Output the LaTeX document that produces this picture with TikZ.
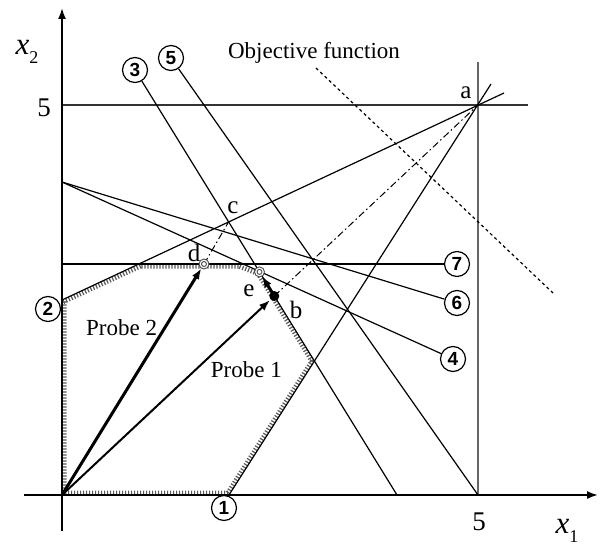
\documentclass[tikz,border=0pt]{standalone}
\usepackage{fontspec}
\setmainfont{Liberation Serif}
\newfontfamily\digitfont{Liberation Sans}
\usetikzlibrary{arrows.meta}
\begin{document}
\begin{tikzpicture}[x=1pt,y=-1pt,
  cline/.style={line width=1.2pt},
  axisline/.style={line width=1.8pt,-{Latex[length=11pt,width=8pt]}},
  num/.style={circle,draw,line width=1.2pt,inner sep=0pt,minimum size=25pt,fill=white,font=\digitfont\bfseries\fontsize{19}{19}\selectfont},
  lbl/.style={font=\fontsize{25}{25}\selectfont,inner sep=0pt},
  txt/.style={font=\fontsize{23}{23}\selectfont,inner sep=0pt},
  dashdot/.style={line width=1pt,dash pattern=on 7pt off 3pt on 1.5pt off 3pt},
  probearrow/.style={-{Latex[length=11pt,width=8pt]}},
  objline/.style={line width=1.2pt,dash pattern=on 3pt off 3pt},
  hatchband/.style={line width=9pt,black!65,dash pattern=on 1.2pt off 1.8pt}
]
\useasboundingbox (0,0) rectangle (601,548);
% key points
\coordinate (O) at (62,495);
\coordinate (a) at (478,105);
\coordinate (Y5) at (62,105);
\coordinate (Y5e) at (528,105);
\coordinate (X5) at (478,495);
\coordinate (X5t) at (478,62);
\coordinate (ytop) at (62,8);
\coordinate (ybot) at (62,531);
\coordinate (xl) at (24,495);
\coordinate (xr) at (598,495);
\coordinate (p1) at (229,495);
\coordinate (p1e) at (491,84);
\coordinate (p2) at (62,300);
\coordinate (p2e) at (504,93);
\coordinate (p3e) at (397,495);
\coordinate (p5e) at (478,495);
\coordinate (q) at (62,182);
\coordinate (p7s) at (62,264);
\coordinate (V1) at (314.5,361.1);
\coordinate (e) at (259.5,271.9);
\coordinate (V3) at (239,264);
\coordinate (V4) at (140,264);
\coordinate (b) at (274.3,296);
\coordinate (c) at (228.6,221.9);
\coordinate (d) at (204,264);
\coordinate (of1) at (316,68);
\coordinate (of2) at (553,293);

% hatched feasible region border
\begin{scope}
\clip (O) -- (p1) -- (V1) -- (e) -- (V3) -- (V4) -- (p2) -- cycle;
\draw[hatchband] (O) -- (p1) -- (V1) -- (e) -- (V3) -- (V4) -- (p2) -- cycle;
\end{scope}

% circled numbers
\node[num] (n1) at (224,508) {1};
\node[num] (n2) at (48,309) {2};
\node[num] (n3) at (135,70) {3};
\node[num] (n4) at (453,359) {4};
\node[num] (n5) at (171,58) {5};
\node[num] (n6) at (457,303) {6};
\node[num] (n7) at (457,264) {7};

% x=5 and y=5 lines
\draw[line width=1.3pt,black!60] (X5t) -- (X5);
\draw[line width=1.1pt,black!80] (Y5) -- (Y5e);

% constraint lines
\draw[cline] (p1) -- (p1e);
\draw[cline] (p2) -- (p2e);
\draw[cline] (n3) -- (p3e);
\draw[cline] (n5) -- (p5e);
\draw[cline] (q) -- (n4);
\draw[cline] (q) -- (n6);
\draw[cline] (p7s) -- (n7);

% objective function
\draw[objline] (of1) -- (of2);

% dash-dot lines
\draw[dashdot] (d) -- (c);
\draw[dashdot] (b) -- (a);

% axes
\draw[axisline] (ybot) -- (ytop);
\draw[axisline] (xl) -- (xr);

% probes
\draw[line width=3pt,probearrow,shorten >=5pt] (O) -- (d);
\draw[line width=2pt,probearrow,shorten >=6pt] (O) -- (b);
\draw[line width=3pt,probearrow,shorten >=5pt] (b) -- (e);

% markers
\fill (b) circle (5pt);
\filldraw[fill=white,draw=black!70,line width=0.9pt] (d) circle (5pt);
\draw[black!70,line width=0.9pt] (d) circle (2.5pt);
\filldraw[fill=white,draw=black!70,line width=0.9pt] (e) circle (5pt);
\draw[black!70,line width=0.9pt] (e) circle (2.5pt);

% point labels
\node[lbl] (la) at (466,93) {a};
\node[lbl] (lb) at (296,310) {b};
\node[lbl] (lc) at (233,208) {c};
\node[lbl] (ld) at (194,253) {d};
\node[lbl] (le) at (249,291) {e};

% texts
\node[txt] (obj) at (314,53) {Objective function};
\node[txt,anchor=base west] (pr2) at (86,335) {Probe 2};
\node[txt,anchor=base east] (pr1) at (282,377) {Probe 1};
\node[inner sep=0pt,font=\fontsize{27}{27}\selectfont] (f5y) at (44,108) {5};
\node[inner sep=0pt,font=\fontsize{27}{27}\selectfont] (f5x) at (479,522) {5};
\node[inner sep=0pt] (x2) at (27,52) {\fontsize{31}{31}\selectfont\itshape x\raisebox{-0.28em}{\fontsize{18}{18}\selectfont\upshape 2}};
\node[inner sep=0pt] (x1) at (567,531) {\fontsize{31}{31}\selectfont\itshape x\raisebox{-0.28em}{\fontsize{18}{18}\selectfont\upshape 1}};
\end{tikzpicture}
\end{document}
